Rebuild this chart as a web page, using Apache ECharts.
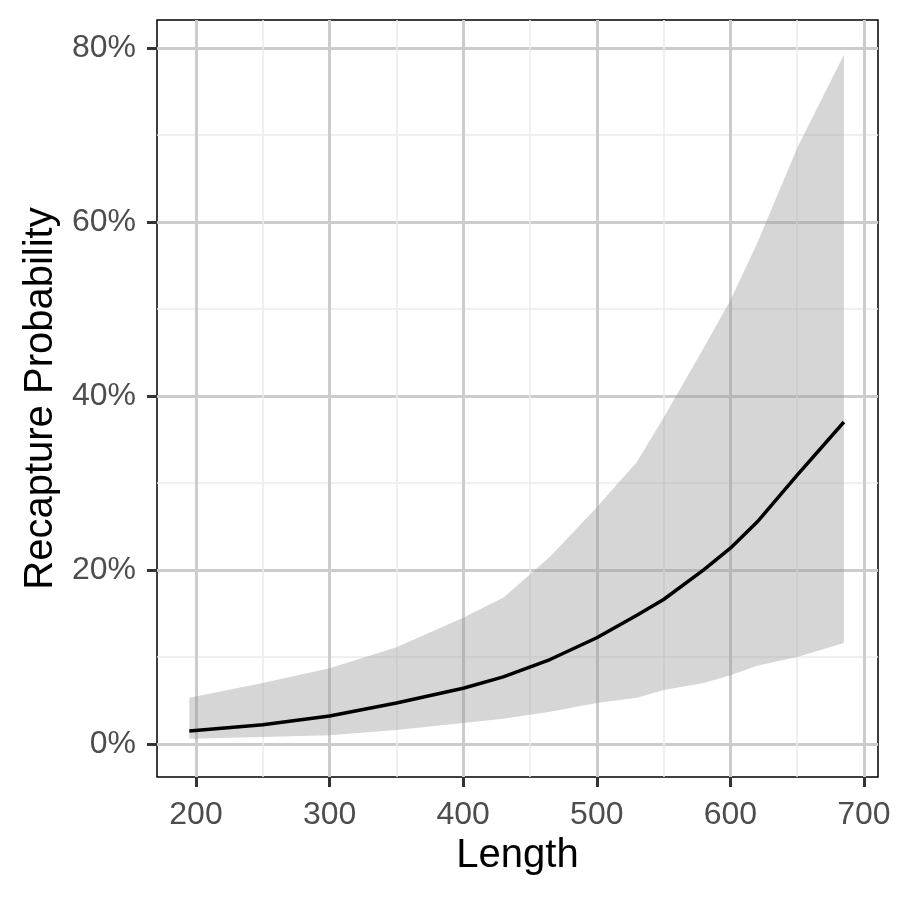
<!DOCTYPE html>
<html>
<head>
<meta charset="utf-8">
<script src="https://cdn.jsdelivr.net/npm/echarts@6/dist/echarts.min.js"></script>
<style>html,body{margin:0;padding:0;background:#fff}#c{width:900px;height:900px}</style>
</head>
<body>
<div id="c"></div>
<script>
// Data (Length vs Recapture Probability, %)
const lengths = [195, 250, 300, 350, 400, 430, 465, 500, 530, 550, 580, 600, 620, 650, 685];
const meanProb = [1.5, 2.2, 3.2, 4.7, 6.4, 7.7, 9.7, 12.2, 14.8, 16.6, 20.0, 22.5, 25.5, 30.9, 37.0];
const lowerProb = [0.6, 0.8, 1.0, 1.6, 2.4, 2.9, 3.7, 4.7, 5.3, 6.2, 7.0, 7.9, 9.0, 10.0, 11.6];
const upperProb = [5.3, 7.0, 8.7, 11.1, 14.5, 16.8, 21.5, 27.2, 32.4, 37.5, 45.5, 51.0, 57.5, 68.5, 79.2];
const xMajorTicks = [200, 300, 400, 500, 600, 700];
const xMinorTicks = [250, 350, 450, 550, 650];
const yMajorTicks = [0, 20, 40, 60, 80];
const yMinorTicks = [10, 30, 50, 70];

const FONT = 'Liberation Sans, Arial, sans-serif';
const X_MIN = 170.8, X_MAX = 710.5, Y_MIN = -3.8, Y_MAX = 83.2;

const chart = echarts.init(document.getElementById('c'), null, {renderer: 'canvas'});

const bandData = lengths.map((x, i) => [x, lowerProb[i], upperProb[i]]);
const meanData = lengths.map((x, i) => [x, meanProb[i]]);

const majorLine = {show: true, lineStyle: {color: '#cccccc', width: 3}};
const minorLine = {show: true, lineStyle: {color: '#ebebeb', width: 1.5}};
const tickStyle = {color: '#333333', width: 3};

chart.setOption({
  animation: false,
  backgroundColor: '#ffffff',
  grid: {left: 157, right: 22, top: 20, bottom: 123, show: true, borderColor: '#000000', borderWidth: 1.5, backgroundColor: 'transparent', containLabel: false},
  xAxis: [
    {
      type: 'value', min: X_MIN, max: X_MAX, position: 'bottom',
      name: 'Length', nameLocation: 'middle', nameGap: 59,
      nameTextStyle: {fontFamily: FONT, fontSize: 40, color: '#000000'},
      axisLine: {show: false, onZero: false},
      axisTick: {show: true, length: 10, lineStyle: tickStyle, customValues: xMajorTicks},
      axisLabel: {show: true, margin: 22, fontFamily: FONT, fontSize: 32, color: '#4d4d4d', customValues: xMajorTicks},
      splitLine: majorLine
    },
    {
      type: 'value', min: X_MIN, max: X_MAX, position: 'bottom',
      axisLine: {show: false, onZero: false},
      axisTick: {show: false, customValues: xMinorTicks},
      axisLabel: {show: false},
      splitLine: minorLine
    }
  ],
  yAxis: [
    {
      type: 'value', min: Y_MIN, max: Y_MAX, position: 'left',
      name: 'Recapture Probability', nameLocation: 'middle', nameGap: 92,
      nameTextStyle: {fontFamily: FONT, fontSize: 40, color: '#000000'},
      axisLine: {show: false, onZero: false},
      axisTick: {show: true, length: 10, lineStyle: tickStyle, customValues: yMajorTicks},
      axisLabel: {show: true, margin: 21, fontFamily: FONT, fontSize: 32, color: '#4d4d4d', customValues: yMajorTicks, formatter: v => v + '%'},
      splitLine: majorLine
    },
    {
      type: 'value', min: Y_MIN, max: Y_MAX, position: 'left',
      axisLine: {show: false, onZero: false},
      axisTick: {show: false, customValues: yMinorTicks},
      axisLabel: {show: false},
      splitLine: minorLine
    }
  ],
  series: [
    {
      name: 'band', type: 'custom', xAxisIndex: 0, yAxisIndex: 0,
      data: bandData, encode: {x: 0, y: [1, 2]}, silent: true, z: 2,
      renderItem: function (params, api) {
        if (params.dataIndex !== 0) return null;
        const pts = [];
        for (let i = 0; i < bandData.length; i++) pts.push(api.coord([bandData[i][0], bandData[i][2]]));
        for (let i = bandData.length - 1; i >= 0; i--) pts.push(api.coord([bandData[i][0], bandData[i][1]]));
        return {type: 'polygon', shape: {points: pts}, style: {fill: 'rgba(153,153,153,0.4)', stroke: null}};
      }
    },
    {
      name: 'mean', type: 'line', xAxisIndex: 0, yAxisIndex: 0,
      data: meanData, symbol: 'none', lineStyle: {color: '#000000', width: 3.5}, z: 5
    }
  ]
});
</script>
</body>
</html>
